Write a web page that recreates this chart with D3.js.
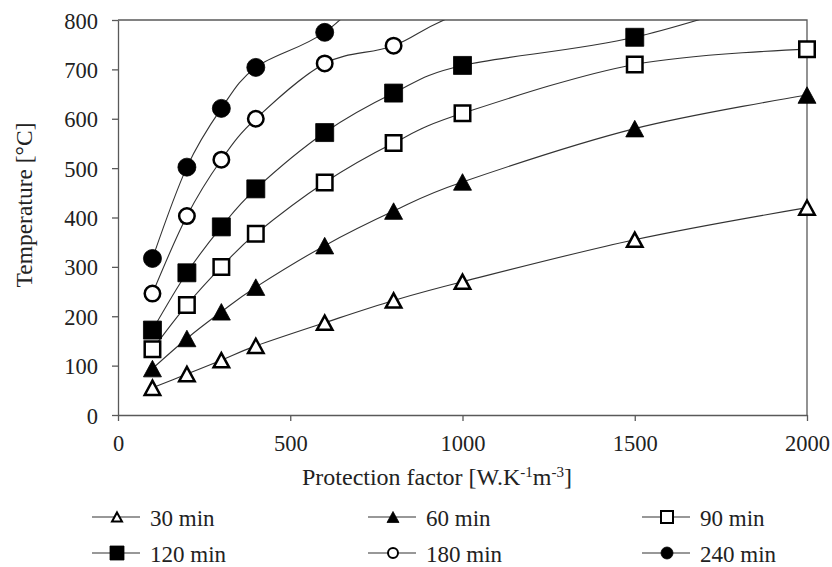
<!DOCTYPE html>
<html>
<head>
<meta charset="utf-8">
<script src="https://cdn.jsdelivr.net/npm/d3@7/dist/d3.min.js"></script>
</head>
<body style="margin:0">
<svg id="chart" width="832" height="567"></svg>
<script>
// Protection factor values (x) shared by all curves
const protectionFactor = [100, 200, 300, 400, 600, 800, 1000, 1500, 2000];

// Steel temperature [°C] per fire exposure time
const temp30  = [55, 83, 111, 140, 187, 232, 270, 355, 420];
const temp60  = [94, 155, 209, 259, 343, 413, 472, 580, 648];
const temp90  = [133, 223, 300, 367, 471, 551, 611, 710, 741];
const temp120 = [172, 288, 381, 458, 572, 652, 708, 765, 870];
const temp180 = [246, 403, 517, 600, 712, 748, 815, 920, 980];
const temp240 = [317, 502, 621, 704, 775, 900, 980, 1050, 1100];

const seriesNames = ["30 min", "60 min", "90 min", "120 min", "180 min", "240 min"];
const seriesValues = [temp30, temp60, temp90, temp120, temp180, temp240];
const seriesMarkers = ["triangle-open", "triangle", "square-open", "square", "circle-open", "circle"];

const xTicks = [0, 500, 1000, 1500, 2000];
const yTicks = [0, 100, 200, 300, 400, 500, 600, 700, 800];

const FONT = '"Liberation Serif", serif';
const TEXT_COLOR = "#222";

const svg = d3.select("#chart");
const plotLeft = 118, plotRight = 807, plotTop = 20, plotBottom = 415;

const x = d3.scaleLinear().domain([0, 2000]).range([plotLeft, plotRight]);
const y = d3.scaleLinear().domain([0, 800]).range([plotBottom, plotTop]);

const axisColor = "#595959";

// serif text helper
function serif(sel, size) {
  return sel.style("font-family", FONT).style("font-size", size + "px").style("fill", TEXT_COLOR);
}

// clip to plot area
svg.append("defs").append("clipPath").attr("id", "plotClip")
  .append("rect").attr("x", plotLeft).attr("y", plotTop)
  .attr("width", plotRight - plotLeft).attr("height", plotBottom - plotTop);

// plot frame (top and right)
svg.append("path")
  .attr("d", `M${plotLeft},${plotTop}H${plotRight}V${plotBottom}`)
  .attr("fill", "none").attr("stroke", axisColor).attr("stroke-width", 1.3);

// axes
const yAxis = svg.append("g").attr("transform", `translate(${plotLeft},0)`)
  .call(d3.axisLeft(y).tickValues(yTicks).tickFormat(d3.format("d"))
    .tickSize(6).tickSizeOuter(0).tickPadding(14));
const xAxis = svg.append("g").attr("transform", `translate(0,${plotBottom})`)
  .call(d3.axisBottom(x).tickValues(xTicks).tickFormat(d3.format("d"))
    .tickSize(6).tickSizeOuter(0).tickPadding(14));
[xAxis, yAxis].forEach(g => {
  g.attr("font-family", null).attr("font-size", null);
  g.select(".domain").attr("stroke", axisColor).attr("stroke-width", 1.3);
  g.selectAll(".tick line").attr("stroke", axisColor).attr("stroke-width", 1.3);
  serif(g.selectAll(".tick text"), 22.5);
});
yAxis.selectAll(".tick text").attr("dy", "0.36em");

// axis titles
serif(svg.append("text"), 23.5)
  .attr("transform", "translate(32,205) rotate(-90)")
  .attr("text-anchor", "middle")
  .text("Temperature [°C]");

const xt = serif(svg.append("text"), 24).attr("x", 437).attr("y", 485)
  .attr("text-anchor", "middle");
xt.append("tspan").text("Protection factor [W.K");
xt.append("tspan").attr("dy", -8).style("font-size", "15px").text("-1");
xt.append("tspan").attr("dy", 8).text("m");
xt.append("tspan").attr("dy", -8).style("font-size", "15px").text("-3");
xt.append("tspan").attr("dy", 8).text("]");

// marker shapes, centred on their bounding box
function markerPath(type, s) {
  const h = s / 2;
  if (type.startsWith("triangle")) {
    const th = s * 0.92 / 2;
    return `M0,${-th}L${h},${th}L${-h},${th}Z`;
  }
  if (type.startsWith("square")) return `M${-h},${-h}H${h}V${h}H${-h}Z`;
  return `M${h},0A${h},${h} 0 1,1 ${-h},0A${h},${h} 0 1,1 ${h},0Z`;
}
function drawMarker(g, type, cx, cy, size, sw) {
  const open = type.endsWith("open");
  const inset = open ? sw : 0;
  g.append("path")
    .attr("transform", `translate(${cx},${cy})`)
    .attr("d", markerPath(type, size - inset))
    .attr("fill", open ? "#fff" : "#000")
    .attr("stroke", "#000")
    .attr("stroke-width", open ? sw : 0.8)
    .attr("stroke-linejoin", "miter");
}

const line = d3.line()
  .x((d, i) => x(protectionFactor[i]))
  .y(d => y(d))
  .curve(d3.curveCardinal.tension(0));

const plot = svg.append("g").attr("clip-path", "url(#plotClip)");
seriesValues.forEach(vals => {
  plot.append("path").attr("d", line(vals))
    .attr("fill", "none").attr("stroke", "#333").attr("stroke-width", 1.1);
});
const markersG = svg.append("g");
seriesValues.forEach((vals, si) => {
  vals.forEach((v, i) => {
    if (v <= 800) drawMarker(markersG, seriesMarkers[si], x(protectionFactor[i]), y(v), 18, 2.5);
  });
});

// legend
const legCols = [92, 368, 642];
const legRows = [517, 553];
seriesNames.forEach((name, i) => {
  const lx = legCols[i % 3], ly = legRows[Math.floor(i / 3)];
  const g = svg.append("g");
  g.append("line").attr("x1", lx).attr("x2", lx + 48).attr("y1", ly).attr("y2", ly)
    .attr("stroke", "#333").attr("stroke-width", 1.1);
  const m = seriesMarkers[i];
  const sz = m.startsWith("triangle") ? 12 : (m.startsWith("circle") ? 12 : 14);
  drawMarker(g, m, lx + 25, ly, sz, 2);
  serif(g.append("text"), 23).attr("x", lx + 58).attr("y", ly + 8.5).text(name);
});
</script>
</body>
</html>
